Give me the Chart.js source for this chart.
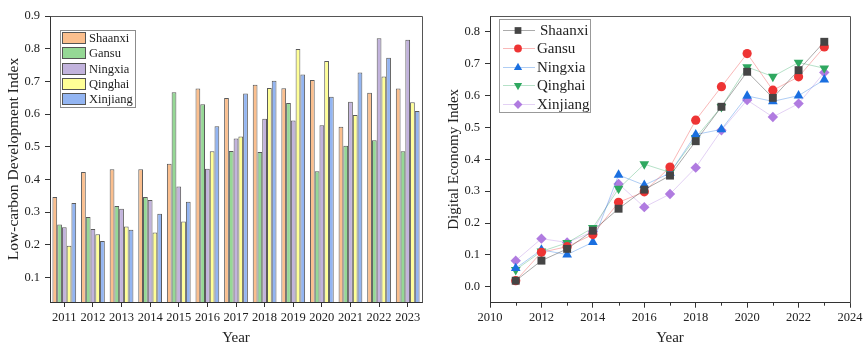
<!DOCTYPE html>
<html>
<head>
<meta charset="utf-8">
<script src="https://cdn.jsdelivr.net/npm/chart.js@4"></script>
<style>
  html, body { margin: 0; padding: 0; background: #fff; }
  #wrap { position: relative; width: 866px; height: 347px; }
  #left { position: absolute; left: 0; top: 0; }
  #right { position: absolute; left: 430px; top: 0; }
</style>
</head>
<body>
<div id="wrap">
  <canvas id="left" width="430" height="347"></canvas>
  <canvas id="right" width="436" height="347"></canvas>
</div>
<script>
// ---- data ----
const years = ['2011','2012','2013','2014','2015','2016','2017','2018','2019','2020','2021','2022','2023'];
const yearNums = [2011,2012,2013,2014,2015,2016,2017,2018,2019,2020,2021,2022,2023];
const provinces = ['Shaanxi','Gansu','Ningxia','Qinghai','Xinjiang'];

// Low-carbon development index (bar chart)
const lcShaanxi  = [0.346,0.423,0.431,0.431,0.448,0.678,0.649,0.690,0.679,0.704,0.561,0.665,0.678];
const lcGansu    = [0.262,0.285,0.319,0.346,0.667,0.630,0.487,0.484,0.634,0.425,0.503,0.520,0.486];
const lcNingxia  = [0.254,0.248,0.310,0.337,0.378,0.433,0.525,0.586,0.580,0.566,0.638,0.832,0.827];
const lcQinghai  = [0.197,0.232,0.256,0.238,0.271,0.486,0.531,0.680,0.799,0.762,0.597,0.715,0.636];
const lcXinjiang = [0.328,0.212,0.246,0.295,0.332,0.563,0.663,0.702,0.721,0.653,0.727,0.772,0.609];

// Digital economy index (line chart)
const deShaanxi  = [0.019,0.082,0.119,0.176,0.245,0.305,0.349,0.457,0.565,0.675,0.593,0.680,0.769];
const deGansu    = [0.019,0.108,0.126,0.164,0.265,0.298,0.376,0.523,0.628,0.732,0.617,0.659,0.753];
const deNingxia  = [0.058,0.116,0.101,0.140,0.351,0.319,0.357,0.478,0.494,0.599,0.582,0.600,0.650];
const deQinghai  = [0.053,0.111,0.138,0.185,0.308,0.385,0.359,0.468,0.565,0.690,0.660,0.704,0.686];
const deXinjiang = [0.082,0.151,0.139,0.173,0.323,0.250,0.291,0.374,0.491,0.586,0.533,0.575,0.673];

// tick values
const leftYTicks  = [0.1,0.2,0.3,0.4,0.5,0.6,0.7,0.8,0.9];
const rightYTicks = [0.0,0.1,0.2,0.3,0.4,0.5,0.6,0.7,0.8];
const rightXTicks = [2010,2012,2014,2016,2018,2020,2022,2024];
const rightXMinor = [2011,2013,2015,2017,2019,2021,2023];

// ---- styling ----
const SERIF = '"Liberation Serif", "Times New Roman", serif';
const TXT = '#222';
const AXIS = '#333';
const barFill = ['#FBBF8E','#95D895','#C2B3DD','#FFFF96','#93B5F2'];
const lineSolid = ['#454545','#EE3434','#1A6FE0','#2FA860','#B07BE0'];
const lineSoft  = ['rgba(69,69,69,0.45)','rgba(238,52,52,0.35)','rgba(26,111,224,0.35)','rgba(47,168,96,0.35)','rgba(176,123,224,0.35)'];
const markStyle = ['rect','circle','triangle','triangle','rectRot'];
const markRot   = [0,0,0,180,0];
const markSize  = [5.6,4.6,5.6,5.6,5.2];

Chart.defaults.font.family = SERIF;
Chart.defaults.color = TXT;

function fixedTicks(values) {
  return scale => { scale.ticks = values.map(v => ({ value: v })); };
}

// top and right frame lines around the plot area
const frame = {
  id: 'frame',
  afterDraw(chart) {
    const { ctx, chartArea: a } = chart;
    ctx.save();
    ctx.strokeStyle = '#555';
    ctx.lineWidth = 1;
    ctx.beginPath();
    ctx.moveTo(Math.round(a.left) + 0.5, Math.round(a.top) + 0.5);
    ctx.lineTo(Math.round(a.right) + 0.5, Math.round(a.top) + 0.5);
    ctx.lineTo(Math.round(a.right) + 0.5, Math.round(a.bottom) + 0.5);
    ctx.stroke();
    ctx.restore();
  }
};

// legend with filled boxes for the bar chart
const boxLegend = {
  id: 'boxLegend',
  afterDraw(chart) {
    const ctx = chart.ctx;
    ctx.save();
    ctx.strokeStyle = '#8c8c8c';
    ctx.lineWidth = 1;
    ctx.strokeRect(60.5, 30.5, 75, 77);
    ctx.font = '12.5px ' + SERIF;
    ctx.textBaseline = 'middle';
    chart.data.datasets.forEach((ds, i) => {
      const y = Math.round(38 + i * 15.3);
      ctx.fillStyle = ds.backgroundColor;
      ctx.fillRect(62, y - 6, 24, 12);
      ctx.strokeStyle = '#555';
      ctx.strokeRect(62.5, y - 5.5, 23, 11);
      ctx.fillStyle = TXT;
      ctx.fillText(ds.label, 89, y + 0.5);
    });
    ctx.restore();
  }
};

// legend with line + marker samples for the line chart
const markLegend = {
  id: 'markLegend',
  afterDraw(chart) {
    const ctx = chart.ctx;
    ctx.save();
    ctx.fillStyle = '#fff';
    ctx.fillRect(70, 19, 91, 94);
    ctx.strokeStyle = '#999';
    ctx.lineWidth = 1;
    ctx.strokeRect(69.5, 19.5, 91, 93);
    ctx.font = '15px ' + SERIF;
    ctx.textBaseline = 'middle';
    chart.data.datasets.forEach((ds, i) => {
      const y = Math.round(29.5 + i * 18.5);
      ctx.strokeStyle = ds.borderColor;
      ctx.beginPath();
      ctx.moveTo(73, y + 0.5);
      ctx.lineTo(105, y + 0.5);
      ctx.stroke();
      ctx.fillStyle = ds.pointBackgroundColor;
      Chart.helpers.drawPoint(ctx, {
        pointStyle: ds.pointStyle, rotation: ds.pointRotation,
        radius: ds.pointRadius * 0.85, borderWidth: 0
      }, 88, y + 0.5);
      ctx.fillStyle = TXT;
      ctx.fillText(ds.label, i === 0 ? 110 : 107, y + 1);
    });
    ctx.restore();
  }
};

// short minor ticks on odd years of the line chart's x axis
const minorTicks = {
  id: 'minorTicks',
  afterDraw(chart) {
    const { ctx, scales: { x } } = chart;
    ctx.save();
    ctx.strokeStyle = AXIS;
    ctx.lineWidth = 1;
    ctx.beginPath();
    rightXMinor.forEach(v => {
      const px = Math.round(x.getPixelForValue(v)) + 0.5;
      ctx.moveTo(px, x.top);
      ctx.lineTo(px, x.top + 3);
    });
    ctx.stroke();
    ctx.restore();
  }
};

const tickFont = { family: SERIF, size: 12.5 };

// ---- left: grouped bars ----
new Chart(document.getElementById('left'), {
  type: 'bar',
  data: {
    labels: years,
    datasets: [lcShaanxi, lcGansu, lcNingxia, lcQinghai, lcXinjiang].map((vals, i) => ({
      label: provinces[i],
      data: vals,
      backgroundColor: barFill[i],
      borderColor: '#5a5a5a',
      borderWidth: 1,
      categoryPercentage: 0.83,
      barPercentage: 1.0
    }))
  },
  options: {
    responsive: false,
    animation: false,
    layout: { padding: { left: 0, top: 16, right: 8, bottom: 0 } },
    plugins: { legend: { display: false }, tooltip: { enabled: false } },
    scales: {
      x: {
        offset: true,
        grid: { offset: false, drawOnChartArea: false, drawTicks: true, tickLength: 5, color: AXIS },
        border: { display: true, color: AXIS, width: 1 },
        ticks: { font: tickFont, color: TXT, padding: 3, maxRotation: 0, autoSkip: false },
        title: { display: true, text: 'Year', font: { family: SERIF, size: 15 }, color: TXT, padding: { top: 0, bottom: 0 } },
        afterFit: s => { s.height = 45; }
      },
      y: {
        min: 0.025,
        max: 0.9,
        afterBuildTicks: fixedTicks(leftYTicks),
        grid: { drawOnChartArea: false, drawTicks: true, tickLength: 5, color: AXIS },
        border: { display: true, color: AXIS, width: 1 },
        ticks: { font: tickFont, color: TXT, padding: 5, callback: v => v.toFixed(1) },
        title: { display: true, text: 'Low-carbon Development Index', font: { family: SERIF, size: 15.5 }, color: TXT, padding: { top: 5, bottom: 0 } },
        afterFit: s => { s.width = 50; }
      }
    }
  },
  plugins: [frame, boxLegend]
});

// ---- right: lines with markers ----
new Chart(document.getElementById('right'), {
  type: 'line',
  data: {
    datasets: [deShaanxi, deGansu, deNingxia, deQinghai, deXinjiang].map((vals, i) => ({
      label: provinces[i],
      data: vals.map((v, k) => ({ x: yearNums[k], y: v })),
      borderColor: lineSoft[i],
      borderWidth: 1,
      backgroundColor: lineSolid[i],
      pointBackgroundColor: lineSolid[i],
      pointBorderWidth: 0,
      pointStyle: markStyle[i],
      pointRotation: markRot[i],
      pointRadius: markSize[i],
      tension: 0,
      clip: false
    }))
  },
  options: {
    responsive: false,
    animation: false,
    layout: { padding: { left: 0, top: 16, right: 16, bottom: 0 } },
    plugins: { legend: { display: false }, tooltip: { enabled: false } },
    scales: {
      x: {
        type: 'linear',
        min: 2010,
        max: 2024,
        afterBuildTicks: fixedTicks(rightXTicks),
        grid: { drawOnChartArea: false, drawTicks: true, tickLength: 5, color: AXIS },
        border: { display: true, color: AXIS, width: 1 },
        ticks: { font: tickFont, color: TXT, padding: 3, maxRotation: 0, autoSkip: false, callback: v => String(v) },
        title: { display: true, text: 'Year', font: { family: SERIF, size: 15 }, color: TXT, padding: { top: 0, bottom: 0 } },
        afterFit: s => { s.height = 44.3; }
      },
      y: {
        min: -0.05,
        max: 0.85,
        afterBuildTicks: fixedTicks(rightYTicks),
        grid: { drawOnChartArea: false, drawTicks: true, tickLength: 5, color: AXIS },
        border: { display: true, color: AXIS, width: 1 },
        ticks: { font: tickFont, color: TXT, padding: 5, callback: v => v.toFixed(1) },
        title: { display: true, text: 'Digital Economy Index', font: { family: SERIF, size: 15 }, color: TXT, padding: { top: 15, bottom: 0 } },
        afterFit: s => { s.width = 60; }
      }
    }
  },
  plugins: [frame, minorTicks, markLegend]
});
</script>
</body>
</html>
